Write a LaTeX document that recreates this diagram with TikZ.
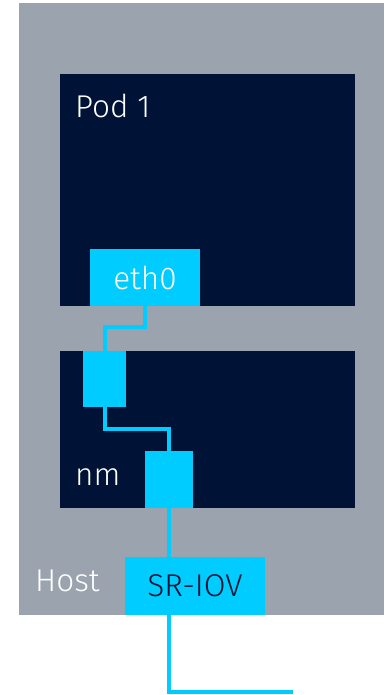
\documentclass[tikz,border=0pt]{standalone}
\usepackage{fontspec}
\setmainfont{Fira Sans}[UprightFont={* Light}]
\begin{document}
\begin{tikzpicture}[x=1pt,y=-1pt]
			\definecolor{hostgray}{RGB}{155,163,174}
			\definecolor{podnavy}{RGB}{0,19,54}
			\definecolor{ifcyan}{RGB}{0,204,255}
			\tikzset{
				iface/.style={fill=ifcyan,inner sep=0,outer sep=0},
				lbl/.style={text=white,font=\fontsize{31.5}{36}\selectfont,inner sep=0,anchor=base west},
				link/.style={draw=ifcyan,line width=4pt}
			}
			\useasboundingbox (0,0) rectangle (384,695);
			
			%Host
			\fill[hostgray] (19,3) rectangle (384,615);
			%Pod 1 va nm
			\fill[podnavy] (60,74) rectangle (355,306);
			\fill[podnavy] (60,351) rectangle (355,508);
			
			\node[lbl] (podlbl) at (75,118) {Pod 1};
			\node[lbl] (nmlbl) at (75,485) {nm};
			\node[lbl] (hostlbl) at (35,591) {Host};
			
			\node[iface,minimum width=110pt,minimum height=57pt,text=white,font=\fontsize{31.5}{36}\selectfont] (eth0) at (145,277.5) {eth0};
			\node[iface,minimum width=43pt,minimum height=56pt] (vf) at (104.5,379) {};
			\node[iface,minimum width=48pt,minimum height=57pt] (nm) at (169,479.5) {};
			\node[iface,minimum width=140pt,minimum height=58pt,text=podnavy,font=\fontsize{31.5}{36}\selectfont] (sriov) at (195,586) {SR-IOV};
			\coordinate (uplink) at (293,692);
			
			\draw[link] (eth0.south) -- ++(0,21) -| (vf.north);
			\draw[link] (vf.south) -- ++(0,22) -| (nm.north);
			\draw[link] (nm.south) -- (nm.south |- sriov.north);
			\draw[link] (nm.south |- sriov.south) |- (uplink);
		\end{tikzpicture}
\end{document}
